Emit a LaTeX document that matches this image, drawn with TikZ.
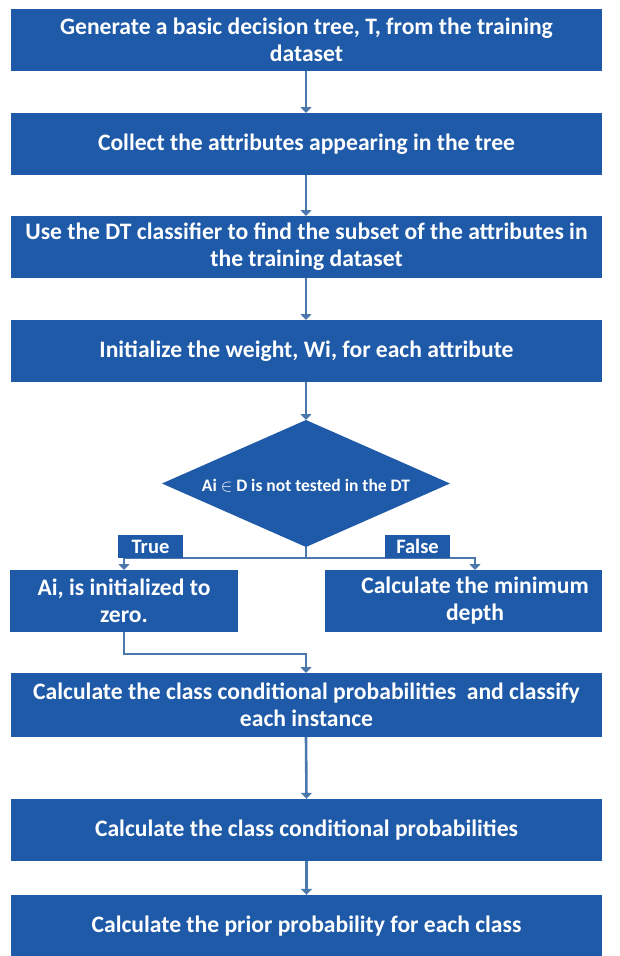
\documentclass[tikz,border=0pt]{standalone}
\usepackage{fontspec}
\setmainfont{Carlito}
\usetikzlibrary{arrows.meta}
\definecolor{boxblue}{RGB}{30,90,168}
\definecolor{lineblue}{RGB}{74,120,172}
\begin{document}
\begin{tikzpicture}[x=1pt,y=-1pt,
  stepbox/.style={draw=none,fill=boxblue,text=white,font=\bfseries\fontsize{23.6}{27}\selectfont,
    minimum width=591,minimum height=62,inner sep=0pt,align=center},
  dectext/.style={text=white,font=\bfseries\fontsize{17.5}{20}\selectfont,inner sep=0pt},
  tagbox/.style={draw=none,fill=boxblue,text=white,font=\bfseries\fontsize{20.5}{22}\selectfont,
    minimum width=65,minimum height=23,inner sep=0pt},
  conn/.style={draw=lineblue,line width=2.6pt,-{Triangle[width=11pt,length=6pt]}}]
\useasboundingbox (0,0) rectangle (619,956);
\begin{scope}
\clip (0,0) rectangle (619,956);
\node[stepbox] (b1) at (306.5,40) {Generate a basic decision tree, T, from the training\\dataset};
\node[stepbox] (b2) at (306.5,144) {Collect the attributes appearing in the tree};
\node[stepbox] (b3) at (306.5,247) {Use the DT classifier to find the subset of the attributes in\\the training dataset};
\node[stepbox] (b4) at (306.5,351) {Initialize the weight, Wi, for each attribute};
\coordinate (dn) at (306,420);
\coordinate (ds) at (306,547);
\fill[boxblue] (dn) -- (450,483.5) -- (ds) -- (162,483.5) -- cycle;
\node[dectext] (d) at (306,486) {Ai $\in$ D is not tested in the DT};
\node[stepbox,minimum width=228] (bl) at (124,601) {Ai, is initialized to\\zero.};
\node[stepbox,minimum width=277] (br) at (463.5,601) {\hspace*{23pt}Calculate the minimum\\\hspace*{23pt}depth};
\node[stepbox,minimum height=64] (b5) at (306.5,705) {Calculate the class conditional probabilities\ \ and classify\\each instance};
\node[stepbox] (b6) at (306.5,830) {Calculate the class conditional probabilities};
\node[stepbox] (b7) at (306.5,926) {Calculate the prior probability for each class};

\draw[conn] (306,71) -- (306,113);
\draw[conn] (306,175) -- (306,216);
\draw[conn] (306,278) -- (306,320);
\draw[conn] (306,382) -- (dn);
\coordinate (tl) at (124,558);
\coordinate (tr) at (475,558);
\draw[conn] (ds) |- (tl) -- (124,570);
\draw[conn] (ds) |- (tr) -- (475,570);
\node[tagbox] (tt) at (150.5,546.5) {True};
\node[tagbox] (tf) at (417.5,546.5) {False};
\draw[conn] (bl.south) -- (124,654) -| (306,673);
\draw[conn] (306,737) -- (b6.north);
\draw[conn] (b6.south) -- (b7.north);
\end{scope}
\end{tikzpicture}
\end{document}
